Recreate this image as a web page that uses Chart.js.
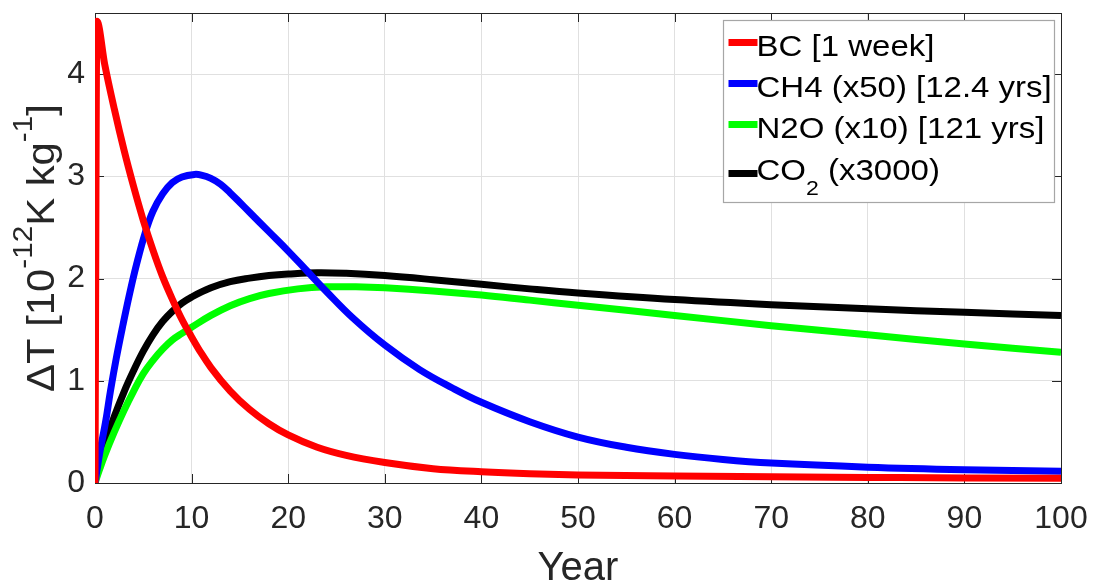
<!DOCTYPE html>
<html>
<head>
<meta charset="utf-8">
<script src="https://cdn.jsdelivr.net/npm/chart.js@4.4.0/dist/chart.umd.min.js"></script>
<style>
    html, body { margin: 0; padding: 0; background: #fff; }
</style>
</head>
<body>
<canvas id="tempChart" width="1095" height="584"></canvas>
<script>
// values
const bcYears   = [0, 0.2, 1, 2, 3, 4, 5, 6, 7, 8, 9, 10, 11, 12, 14, 16, 18, 20, 23, 26, 30, 35, 40, 45, 50, 60, 70, 80, 90, 100];
const bcValues  = [0, 4.52, 4.1, 3.66, 3.26, 2.9, 2.57, 2.28, 2.02, 1.8, 1.6, 1.43, 1.27, 1.13, 0.9, 0.72, 0.58, 0.47, 0.35, 0.27, 0.2, 0.14, 0.11, 0.09, 0.078, 0.068, 0.06, 0.055, 0.05, 0.046];

const ch4Years  = [0, 0.5, 1.1, 1.6, 2.2, 2.9, 3.6, 4.3, 5.2, 6, 7, 8, 9, 10.3, 11, 12, 13, 14, 15, 16, 18, 20, 22, 24, 26.7, 30, 33.6, 37, 40, 45, 50, 55, 60, 65, 70, 80, 90, 100];
const ch4Values = [0, 0.3, 0.6, 0.9, 1.22, 1.55, 1.86, 2.14, 2.45, 2.66, 2.83, 2.94, 2.995, 3.02, 3.014, 2.982, 2.924, 2.839, 2.745, 2.65, 2.46, 2.27, 2.07, 1.87, 1.615, 1.35, 1.11, 0.93, 0.79, 0.6, 0.45, 0.35, 0.28, 0.23, 0.195, 0.155, 0.13, 0.115];

const n2oYears  = [0, 0.5, 1, 2, 3, 4, 5, 6, 7, 8, 9, 10, 12, 14, 16, 18, 21, 24, 27, 30, 35, 40, 45, 50, 60, 70, 80, 90, 100];
const n2oValues = [0, 0.14, 0.27, 0.5, 0.71, 0.9, 1.07, 1.2, 1.31, 1.4, 1.465, 1.525, 1.64, 1.735, 1.805, 1.855, 1.9, 1.92, 1.92, 1.91, 1.88, 1.84, 1.79, 1.74, 1.64, 1.54, 1.45, 1.36, 1.28];

const co2Years  = [0, 0.5, 1, 2, 3, 4, 5, 6, 7, 8, 9, 10, 12, 14, 16, 18, 20, 23, 26, 30, 35, 40, 45, 50, 60, 70, 80, 90, 100];
const co2Values = [0, 0.22, 0.38, 0.65, 0.89, 1.1, 1.29, 1.45, 1.58, 1.68, 1.76, 1.82, 1.91, 1.97, 2.005, 2.03, 2.045, 2.058, 2.052, 2.03, 1.99, 1.945, 1.9, 1.86, 1.795, 1.745, 1.705, 1.67, 1.64];

const seriesLabels = ['BC [1 week]', 'CH4 (x50) [12.4 yrs]', 'N2O (x10) [121 yrs]', 'CO_2 (x3000)'];
const xTicks = [0, 10, 20, 30, 40, 50, 60, 70, 80, 90, 100];
const yTicks = [0, 1, 2, 3, 4];
const xTitle = 'Year';
// y title pieces, '^' marks a superscript
const yTitleParts = ['\u0394T [10', '^-12', 'K kg', '^-1', ']'];

const FONT = '"Liberation Sans", Arial, Helvetica, sans-serif';
const INK = '#262626';

function toPoints(xs, ys) {
    return xs.map((x, i) => ({ x: x, y: ys[i] }));
}

// draws text pieces; a piece starting with '^' is raised, '_' is lowered.
// stretch widens the text a little, the reference renders it wider than Liberation Sans
function drawPieces(ctx, pieces, x, y, size, supShift, subShift, align, stretch) {
    const small = Math.round(size * 0.7);
    const widths = pieces.map(p => {
        const sm = p[0] === '^' || p[0] === '_';
        ctx.font = (sm ? small : size) + 'px ' + FONT;
        return ctx.measureText(sm ? p.slice(1) : p).width;
    });
    const total = widths.reduce((a, b) => a + b, 0) * stretch;
    ctx.save();
    ctx.translate(align === 'center' ? x - total / 2 : x, y);
    ctx.scale(stretch, 1);
    let cx = 0;
    pieces.forEach((p, i) => {
        let txt = p, dy = 0, sz = size;
        if (p[0] === '^') { txt = p.slice(1); dy = -supShift; sz = small; }
        if (p[0] === '_') { txt = p.slice(1); dy = subShift; sz = small; }
        ctx.font = sz + 'px ' + FONT;
        ctx.fillText(txt, cx, dy);
        cx += widths[i];
    });
    ctx.restore();
}

function splitSub(label) {
    // 'CO_2 (x3000)' -> ['CO', '_2', ' (x3000)']
    const k = label.indexOf('_');
    if (k < 0) return [label];
    return [label.slice(0, k), '_' + label[k + 1], label.slice(k + 2)];
}

const axesFrame = {
    id: 'axesFrame',
    beforeDatasetsDraw(chart) {
        const { ctx, chartArea: a, scales } = chart;
        ctx.save();
        ctx.strokeStyle = INK;
        ctx.lineWidth = 1;
        ctx.strokeRect(Math.round(a.left) + 0.5, Math.round(a.top) + 0.5,
                       Math.round(a.right - a.left), Math.round(a.bottom - a.top));
        const len = 9;
        ctx.beginPath();
        xTicks.forEach(v => {
            const px = Math.round(scales.x.getPixelForValue(v)) + 0.5;
            ctx.moveTo(px, a.bottom); ctx.lineTo(px, a.bottom - len);
            ctx.moveTo(px, a.top); ctx.lineTo(px, a.top + len);
        });
        yTicks.forEach(v => {
            const py = Math.round(scales.y.getPixelForValue(v)) + 0.5;
            ctx.moveTo(a.left, py); ctx.lineTo(a.left + len, py);
            ctx.moveTo(a.right, py); ctx.lineTo(a.right - len, py);
        });
        ctx.stroke();
        ctx.restore();
    },
    afterDraw(chart) {
        const { ctx, chartArea: a } = chart;
        ctx.save();
        ctx.fillStyle = INK;
        ctx.textBaseline = 'alphabetic';
        ctx.textAlign = 'left';
        drawPieces(ctx, [xTitle], (a.left + a.right) / 2, 580, 40, 0, 0, 'center', 1);
        ctx.translate(54, (a.top + a.bottom) / 2);
        ctx.rotate(-Math.PI / 2);
        drawPieces(ctx, yTitleParts, 0, 0, 38, 22, 0, 'center', 1.1);
        ctx.restore();
    }
};

const legendBox = {
    id: 'legendBox',
    afterDraw(chart) {
        const { ctx, chartArea: a } = chart;
        const w = 331, h = 182;
        const bx = Math.round(a.right - w - 7) + 0.5, by = Math.round(a.top + 7) + 0.5;
        const rows = [22, 63, 104, 153];
        ctx.save();
        ctx.fillStyle = '#ffffff';
        ctx.fillRect(bx, by, w, h);
        ctx.strokeStyle = '#a6a6a6';
        ctx.lineWidth = 1.2;
        ctx.strokeRect(bx, by, w, h);
        chart.data.datasets.forEach((ds, i) => {
            const ly = by + rows[i];
            ctx.strokeStyle = ds.borderColor;
            ctx.lineWidth = 7;
            ctx.beginPath();
            ctx.moveTo(bx + 5, ly);
            ctx.lineTo(bx + 34, ly);
            ctx.stroke();
            const pieces = splitSub(ds.label);
            ctx.fillStyle = '#000';
            ctx.textBaseline = 'alphabetic';
            ctx.textAlign = 'left';
            drawPieces(ctx, pieces, bx + 33, ly + (pieces.length > 1 ? 6 : 13), 30, 0, 15, 'left', 1.1);
        });
        ctx.restore();
    }
};

const ctx = document.getElementById('tempChart').getContext('2d');

const tempChart = new Chart(ctx, {
    type: 'line',
    data: {
        datasets: [{
            label: seriesLabels[0],
            data: toPoints(bcYears, bcValues),
            borderColor: '#ff0000',
            cubicInterpolationMode: 'monotone'   // keeps the sharp jump at year 0
        }, {
            label: seriesLabels[1],
            data: toPoints(ch4Years, ch4Values),
            borderColor: '#0000ff'
        }, {
            label: seriesLabels[2],
            data: toPoints(n2oYears, n2oValues),
            borderColor: '#00ff00'
        }, {
            label: seriesLabels[3],
            data: toPoints(co2Years, co2Values),
            borderColor: '#000000'
        }]
    },
    options: {
        responsive: false,
        animation: false,
        devicePixelRatio: 1,
        layout: { padding: { top: 13, right: 34, left: 0, bottom: 0 } },
        elements: {
            line: { borderWidth: 7, tension: 0.4, borderJoinStyle: 'round', fill: false },
            point: { radius: 0, hoverRadius: 0 }
        },
        plugins: {
            legend: { display: false },
            tooltip: { enabled: false }
        },
        scales: {
            x: {
                type: 'linear',
                min: 0,
                max: 100,
                afterBuildTicks: s => { s.ticks = xTicks.map(v => ({ value: v })); },
                afterFit: s => {
                    s.height = 101;
                    s.paddingLeft = 0;
                    s.paddingRight = 0;
                },
                grid: { color: '#e0e0e0', drawTicks: false },
                border: { display: false },
                ticks: {
                    color: INK,
                    padding: 17,
                    maxRotation: 0,
                    font: { family: FONT, size: 32 }
                }
            },
            y: {
                type: 'linear',
                min: 0,
                max: 4.6,
                afterBuildTicks: s => { s.ticks = yTicks.map(v => ({ value: v })); },
                afterFit: s => {
                    s.width = 95;
                    s.paddingTop = 0;
                    s.paddingBottom = 0;
                },
                grid: { color: '#e0e0e0', drawTicks: false },
                border: { display: false },
                ticks: {
                    color: INK,
                    padding: 10,
                    font: { family: FONT, size: 32 }
                }
            }
        }
    },
    plugins: [axesFrame, legendBox]
});
</script>
</body>
</html>
